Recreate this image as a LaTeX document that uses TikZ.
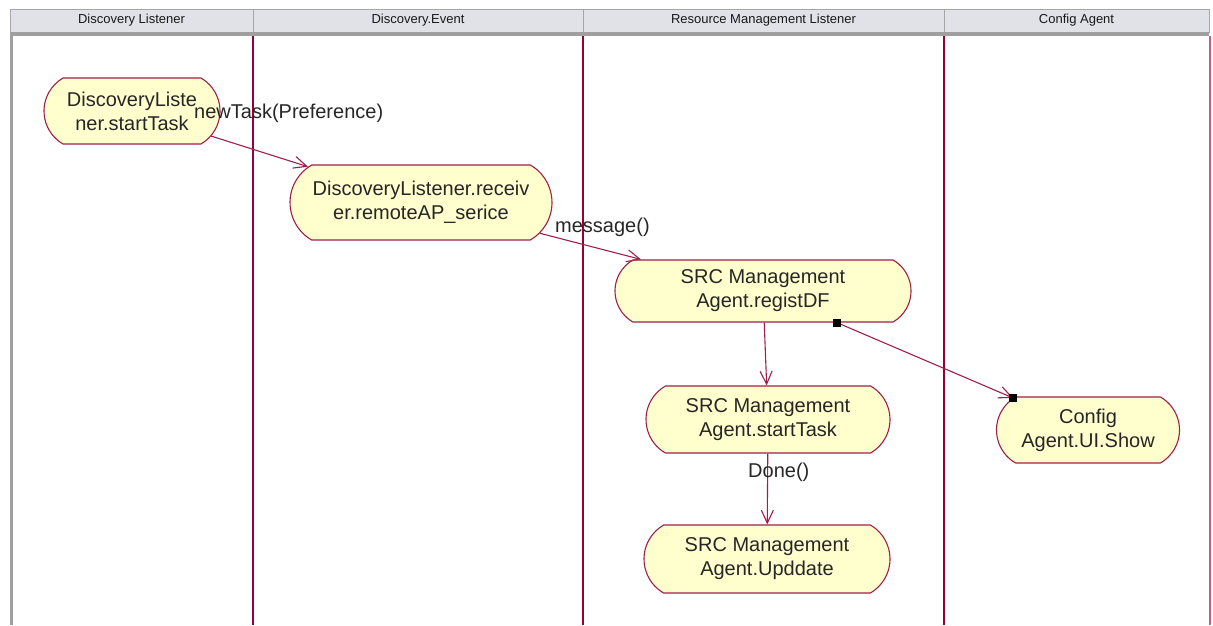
\documentclass[tikz,border=0pt]{standalone}
\usepackage{fontspec}
\setmainfont{Liberation Sans}
\usetikzlibrary{shapes.misc,arrows.meta}
\definecolor{rosered}{RGB}{160,30,75}
\definecolor{lanered}{RGB}{150,0,50}
\definecolor{actfill}{RGB}{255,255,206}
\definecolor{headgray}{RGB}{225,225,232}

\begin{document}
\begin{tikzpicture}[x=1pt, y=-1pt,
	activity/.style={rounded rectangle, rounded rectangle arc length=120, draw=rosered, line width=1.1pt, fill=actfill, align=center, inner sep=0pt, text=black!85, font=\fontsize{20}{24}\selectfont},
	flow/.style={draw=rosered, line width=1.1pt, -{Straight Barb[length=13pt,width=12pt]}},
	lbl/.style={anchor=base west, inner sep=0pt, text=black!85, font=\fontsize{20}{24}\selectfont},
	lanehead/.style={draw=gray!70, fill=headgray, minimum height=23pt, inner sep=0pt, text=black!90, font=\fontsize{13}{15}\selectfont}]
	\useasboundingbox (0,0) rectangle (1213,625);
	\foreach \l/\r/\t [count=\i] in {10/253/Discovery Listener, 253/583/Discovery.Event, 583/944/Resource Management Listener, 944/1209/Config Agent}
		\node[lanehead, minimum width={(\r-\l)*1pt}] (h\i) at ({(\l+\r)/2},20.5) {\t};
	\fill[gray!75] (10,32) rectangle (1209,36);
	\fill[gray!75] (10,36) rectangle (12.5,625);
	\foreach \x in {253, 583, 944}
		\draw[lanered, line width=1.3pt] (\x,36) -- (\x,625);
	\draw[rosered!70, line width=1.5pt] (1210,36) -- (1210,625);

	\node[activity, minimum width=176pt, minimum height=66pt] (n1) at (132,111) {DiscoveryListe\\ner.startTask};
	\node[activity, minimum width=262pt, minimum height=75pt] (n2) at (421,202.5) {DiscoveryListener.receiv\\er.remoteAP\_serice};
	\node[activity, minimum width=296pt, minimum height=62pt] (n3) at (763,291) {SRC Management\\Agent.registDF};
	\node[activity, minimum width=244pt, minimum height=67pt] (n4) at (768,419.5) {SRC Management\\Agent.startTask};
	\node[activity, minimum width=246pt, minimum height=68pt] (n5) at (767,559) {SRC Management\\Agent.Upddate};
	\node[activity, minimum width=183pt, minimum height=66pt] (n6) at (1088,430) {Config\\Agent.UI.Show};

	\draw[flow] (n1) -- (n2);
	\draw[flow] (n2) -- (n3);
	\draw[flow] (n3) -- (n4);
	\draw[flow] (n4) -- (n5);
	\draw[flow] (n3) -- coordinate[pos=0] (sq1) coordinate[pos=1] (sq2) (n6);
	\fill (sq1) +(-4,-4) rectangle +(4,4);
	\fill (sq2) +(-4,-4) rectangle +(4,4);

	\node[lbl] (lnew) at (194,118) {newTask(Preference)};
	\node[lbl] (lmsg) at (555,232) {message()};
	\node[lbl] (ldone) at (748,477) {Done()};
\end{tikzpicture}
\end{document}
